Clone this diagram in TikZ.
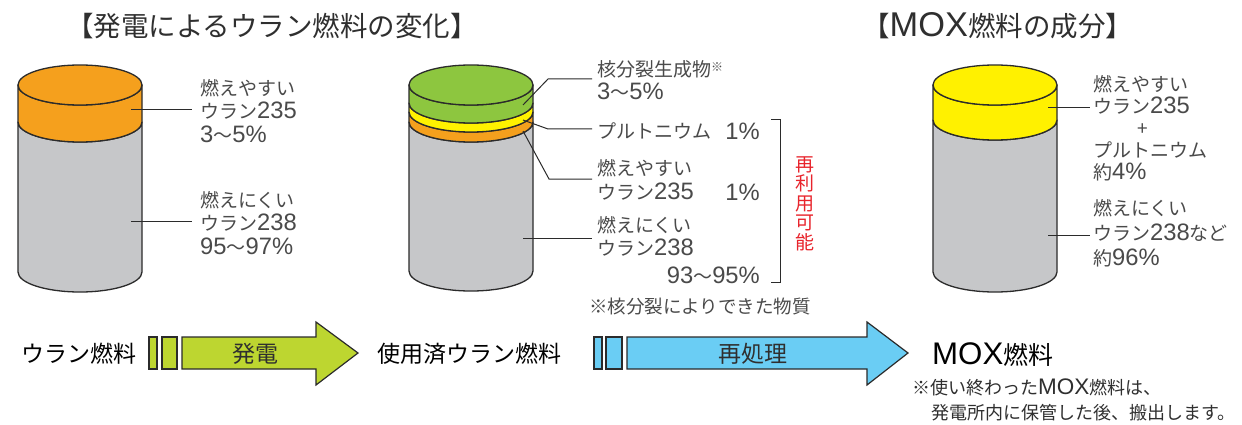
\documentclass[tikz,border=0pt]{standalone}
\usepackage{fontspec}
\setmainfont{Noto Sans CJK JP}
\newfontfamily\latn{Liberation Sans}[Scale=1.25]
\newcommand{\nm}[1]{{\latn #1}}
\definecolor{cylgray}{HTML}{C6C7C9}
\definecolor{uorange}{HTML}{F5A01D}
\definecolor{fgreen}{HTML}{8DC63F}
\definecolor{puyellow}{HTML}{FFF100}
\definecolor{agreen}{HTML}{BDD630}
\definecolor{ablue}{HTML}{6ACDF4}
\definecolor{redtxt}{HTML}{E8242C}
\definecolor{outl}{HTML}{2B2B2B}
\definecolor{lblgray}{HTML}{4A4A4A}
\definecolor{ttl}{HTML}{2F2F2F}
\newcommand{\cylseg}[4]{%
  \filldraw[cylline, fill=#4] (#1-62,#2) -- (#1-62,#3)
    arc[start angle=180,end angle=0,x radius=62,y radius=20]
    -- (#1+62,#2)
    arc[start angle=0,end angle=180,x radius=62,y radius=20] -- cycle;}
\newcommand{\cyltop}[3]{%
  \filldraw[cylline, fill=#3] (#1,#2) ellipse[x radius=62,y radius=20];}
\tikzset{
  cylline/.style={draw=outl, line width=1.3pt, line join=round},
  lbl/.style={anchor=west, inner sep=0pt, align=left, text=lblgray,
    font=\fontsize{19}{23.5}\selectfont},
  leader/.style={draw=outl, line width=1pt},
  arrline/.style={draw=outl, line width=1.2pt, line join=miter},
  title/.style={anchor=west, inner sep=0pt, text=ttl, font=\fontsize{27.5}{30}\selectfont},
  stage/.style={anchor=west, inner sep=0pt, text=black, font=\fontsize{23}{25}\selectfont},
  arrtxt/.style={inner sep=0pt, text=ttl, font=\fontsize{23}{25}\selectfont},
  note/.style={anchor=west, inner sep=0pt, text=ttl, font=\fontsize{18}{20}\selectfont}
}
\begin{document}
\begin{tikzpicture}[x=1pt,y=-1pt]
\useasboundingbox (0,0) rectangle (1242,425);
\fill[white] (0,0) rectangle (1242,425);

% titles
\node[title] (t1) at (66,26) {【発電によるウラン燃料の変化】};
\node[title] (t2) at (862,26) {【\nm{MOX}燃料の成分】};

% left cylinder
\cylseg{80}{122}{272}{cylgray}
\cylseg{80}{85}{122}{uorange}
\cyltop{80}{85}{uorange}

% middle cylinder
\cylseg{471}{122}{271}{cylgray}
\cylseg{471}{112}{122}{uorange}
\cylseg{471}{103}{112}{puyellow}
\cylseg{471}{85}{103}{fgreen}
\cyltop{471}{85}{fgreen}

% right cylinder
\cylseg{995}{120}{272}{cylgray}
\cylseg{995}{85}{120}{puyellow}
\cyltop{995}{85}{puyellow}

% left labels
\node[lbl] (l1) at (200,111) {燃えやすい\\ウラン\nm{235}\\\nm{3}〜\nm{5\%}};
\node[lbl] (l2) at (200,223) {燃えにくい\\ウラン\nm{238}\\\nm{95}〜\nm{97\%}};
\coordinate (l1a) at (131,110); \coordinate (l1b) at (192,110);
\coordinate (l2a) at (131,221); \coordinate (l2b) at (192,221);
\draw[leader] (l1a) -- (l1b);
\draw[leader] (l2a) -- (l2b);

% middle labels
\node[lbl] (m1) at (597,80) {核分裂生成物\raisebox{5pt}{\fontsize{12}{12}\selectfont ※}\\\nm{3}〜\nm{5\%}};
\node[lbl] (m2) at (597,131) {プルトニウム};
\node[lbl,anchor=east] (m2p) at (760,131) {\nm{1\%}};
\node[lbl] (m3) at (597,180) {燃えやすい\\ウラン\nm{235}};
\node[lbl,anchor=east] (m3p) at (760,192) {\nm{1\%}};
\node[lbl] (m4) at (597,236.5) {燃えにくい\\ウラン\nm{238}};
\node[lbl,anchor=east] (m4p) at (760,275) {\nm{93}〜\nm{95\%}};
\coordinate (g0) at (523,105); \coordinate (g1) at (548,79); \coordinate (g2) at (592,79);
\coordinate (y0) at (523,120); \coordinate (y1) at (548,129); \coordinate (y2) at (592,129);
\coordinate (o0) at (523,131); \coordinate (o1) at (549,179); \coordinate (o2) at (592,179);
\coordinate (s0) at (523,238); \coordinate (s2) at (592,238);
\draw[leader] (g0) -- (g1) -- (g2);
\draw[leader] (y0) -- (y1) -- (y2);
\draw[leader] (o0) -- (o1) -- (o2);
\draw[leader] (s0) -- (s2);

% bracket and reuse text
\draw[leader] (771,120) -- (780,120) -- (780,282) -- (771,282);
\node[inner sep=0pt, align=center, text=redtxt, font=\fontsize{19}{19.5}\selectfont] (reuse) at (805,203.5) {再\\利\\用\\可\\能};
\node[note, text=lblgray, font=\fontsize{18.5}{20}\selectfont] (fn) at (589,307) {※核分裂によりできた物質};

% right labels
\node[lbl, font=\fontsize{19}{22}\selectfont] (r1) at (1093,128.5) {燃えやすい\\ウラン\nm{235}\\\hspace*{44pt}+\\プルトニウム\\約\nm{4\%}};
\node[lbl, font=\fontsize{19}{25}\selectfont] (r2) at (1093,233) {燃えにくい\\ウラン\nm{238}など\\約\nm{96\%}};
\coordinate (r1a) at (1048,108); \coordinate (r1b) at (1090,108);
\coordinate (r2a) at (1048,235); \coordinate (r2b) at (1090,235);
\draw[leader] (r1a) -- (r1b);
\draw[leader] (r2a) -- (r2b);

% bottom flow
\node[stage] (s1) at (21,354) {ウラン燃料};
\filldraw[arrline, fill=agreen] (149,337) rectangle (157,369);
\filldraw[arrline, fill=agreen] (162,337) rectangle (177,369);
\filldraw[arrline, fill=agreen] (182,337) -- (316,337) -- (316,322) -- (358,353) -- (316,385) -- (316,369) -- (182,369) -- cycle;
\node[arrtxt] (a1) at (255,354) {発電};

\node[stage] (s2n) at (377,354) {使用済ウラン燃料};
\filldraw[arrline, fill=ablue] (594,337) rectangle (602,369);
\filldraw[arrline, fill=ablue] (606,337) rectangle (622,369);
\filldraw[arrline, fill=ablue] (627,337) -- (867,337) -- (867,322) -- (908,353) -- (867,385) -- (867,369) -- (627,369) -- cycle;
\node[arrtxt] (a2) at (753,354) {再処理};

\node[stage, font=\fontsize{25}{27}\selectfont] (s3) at (932,355) {\nm{MOX}燃料};
\node[note] (n1) at (912,387) {※使い終わった\nm{MOX}燃料は、};
\node[note] (n2) at (931,413) {発電所内に保管した後、搬出します。};
\end{tikzpicture}
\end{document}
